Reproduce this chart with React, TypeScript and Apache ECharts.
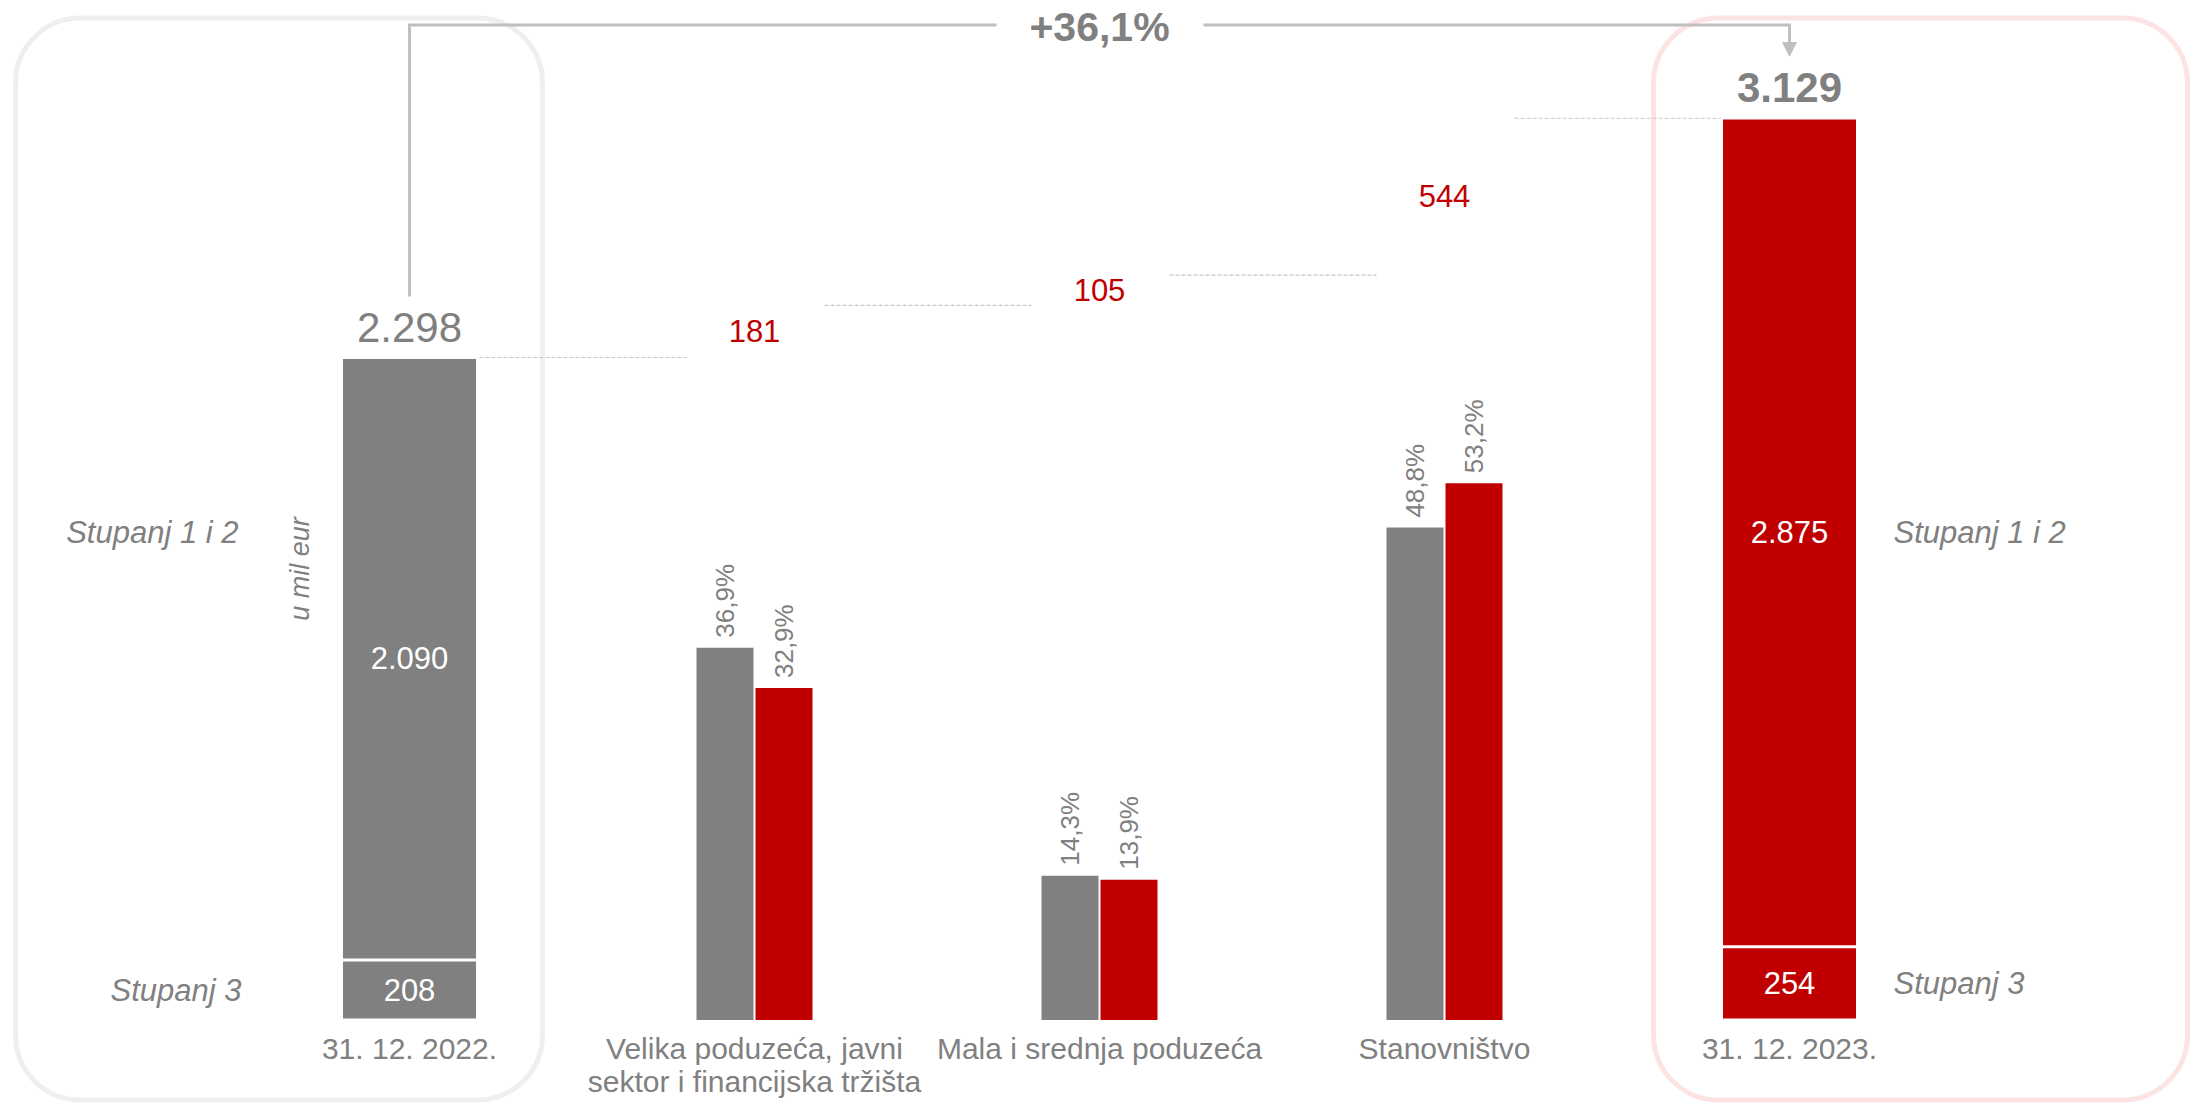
import React, { useEffect, useRef } from "react";
import * as echarts from "echarts";

// ---- data ----
const categories = [
  "31. 12. 2022.",
  "Velika poduzeća, javni\nsektor i financijska tržišta",
  "Mala i srednja poduzeća",
  "Stanovništvo",
  "31. 12. 2023.",
];
const stage3 = [208, null, null, null, 254];
const stage12 = [2090, null, null, null, 2875];
const totals = [2298, null, null, null, 3129];
const changes = [null, 181, 105, 544, null];
const share2022 = [null, 36.9, 14.3, 48.8, null];
const share2023 = [null, 32.9, 13.9, 53.2, null];
const stageNames = ["Stupanj 1 i 2", "Stupanj 3"];
const unitLabel = "u mil eur";
const growthLabel = "+36,1%";

// ---- styles ----
const GREY = "#808080";
const RED = "#C00000";
const FONT = "'Liberation Sans', Arial, Helvetica, sans-serif";
const LINE = "#bfbfbf";

const fmtNum = (v: number) => String(v).replace(/\B(?=(\d{3})+(?!\d))/g, ".");
const fmtPct = (v: number) => v.toFixed(1).replace(".", ",") + "%";
const dash = (arr: (number | null)[]) => arr.map((v) => (v == null ? "-" : v));

export default function App() {
  const ref = useRef<HTMLDivElement>(null);

  useEffect(() => {
    if (!ref.current) return;
    const chart = echarts.init(ref.current, null, { renderer: "svg" });

    // waterfall bases from the read values
    const base: (number | string)[] = categories.map(() => "-");
    const levels: [number, number][] = [];
    let running = totals[0] as number;
    levels.push([0, running]);
    for (let i = 1; i <= 3; i++) {
      base[i] = running;
      running += changes[i] as number;
      levels.push([i, running]);
    }

    const endColor = (i: number) => (i === 0 ? GREY : RED);
    const endItems = (arr: (number | null)[]) =>
      arr.map((v, i) => (v == null ? "-" : { value: v, itemStyle: { color: endColor(i) } }));

    const insideLabel = {
      show: true,
      position: "inside",
      color: "#ffffff",
      fontSize: 31,
      fontFamily: FONT,
      formatter: (p: any) => fmtNum(p.value),
    };

    const pctLabel = {
      show: true,
      position: "top",
      rotate: 90,
      align: "left",
      verticalAlign: "middle",
      distance: 10,
      color: GREY,
      fontSize: 26,
      fontFamily: FONT,
      formatter: (p: any) => fmtPct(p.value),
    };

    chart.setOption({
      animation: false,
      backgroundColor: "#ffffff",
      grid: { left: 237, right: 234, top: 11, bottom: 86, containLabel: false },
      xAxis: [
        {
          type: "category",
          data: categories,
          axisLine: { show: false },
          axisTick: { show: false },
          axisLabel: {
            interval: 0,
            color: GREY,
            fontSize: 30,
            lineHeight: 33,
            margin: 12,
            fontFamily: FONT,
          },
        },
        { type: "category", data: categories, show: false },
      ],
      yAxis: [
        { type: "value", min: 0, max: 3500, show: false },
        { type: "value", min: 0, max: 100, show: false },
      ],
      series: [
        {
          name: stageNames[1],
          type: "bar",
          stack: "amt",
          xAxisIndex: 0,
          yAxisIndex: 0,
          barWidth: 136,
          data: endItems(stage3),
          itemStyle: { borderColor: "#ffffff", borderWidth: 1.5 },
          label: insideLabel,
        },
        {
          name: stageNames[0],
          type: "bar",
          stack: "amt",
          xAxisIndex: 0,
          yAxisIndex: 0,
          barWidth: 136,
          data: endItems(stage12),
          itemStyle: { borderColor: "#ffffff", borderWidth: 1.5 },
          label: insideLabel,
        },
        {
          name: "total",
          type: "bar",
          stack: "amt",
          xAxisIndex: 0,
          yAxisIndex: 0,
          barWidth: 136,
          silent: true,
          itemStyle: { color: "rgba(0,0,0,0)" },
          data: totals.map((v, i) =>
            v == null
              ? "-"
              : { value: 0, label: { fontWeight: i === 0 ? "normal" : "bold" } }
          ),
          label: {
            show: true,
            position: "top",
            distance: 9,
            color: GREY,
            fontSize: 42,
            lineHeight: 42,
            fontFamily: FONT,
            formatter: (p: any) => fmtNum(totals[p.dataIndex] as number),
          },
        },
        {
          name: "base",
          type: "bar",
          stack: "amt",
          xAxisIndex: 0,
          yAxisIndex: 0,
          barWidth: 136,
          silent: true,
          itemStyle: { color: "rgba(0,0,0,0)" },
          data: base,
        },
        {
          name: "change",
          type: "bar",
          stack: "amt",
          xAxisIndex: 0,
          yAxisIndex: 0,
          barWidth: 136,
          silent: true,
          itemStyle: { color: "rgba(0,0,0,0)" },
          data: dash(changes),
          label: {
            show: true,
            position: "inside",
            color: RED,
            fontSize: 31,
            fontFamily: FONT,
            formatter: (p: any) => fmtNum(p.value),
          },
        },
        {
          name: "2022",
          type: "bar",
          xAxisIndex: 1,
          yAxisIndex: 1,
          barWidth: 57,
          barGap: "3.5%",
          itemStyle: { color: GREY },
          data: dash(share2022),
          label: pctLabel,
        },
        {
          name: "2023",
          type: "bar",
          xAxisIndex: 1,
          yAxisIndex: 1,
          barWidth: 57,
          barGap: "3.5%",
          itemStyle: { color: RED },
          data: dash(share2023),
          label: pctLabel,
        },
        {
          name: "connectors",
          type: "custom",
          xAxisIndex: 0,
          yAxisIndex: 0,
          silent: true,
          data: levels,
          renderItem: (params: any, api: any) => {
            const c = api.value(0);
            const v = api.value(1);
            const p = api.coord([c, v]);
            const q = api.coord([c + 1, v]);
            const bw = api.size([1, 0])[0];
            return {
              type: "line",
              shape: { x1: p[0] + bw * 0.203, y1: p[1], x2: q[0] - bw * 0.197, y2: q[1] },
              style: { stroke: "#c8c8c8", lineWidth: 1.2, lineDash: [4, 2] },
            };
          },
        },
      ],
    });

    // decorations positioned from the axes
    const px = (c: number, v: number) =>
      chart.convertToPixel({ xAxisIndex: 0, yAxisIndex: 0 }, [c, v]) as number[];
    const [x0, yT0] = px(0, totals[0] as number);
    const [x4, yT4] = px(4, totals[4] as number);
    const mid = (x0 + x4) / 2;
    const lineY = 25;
    const gapAbove = 61;
    const yS12 = px(4, (stage3[4] as number) + (stage12[4] as number) / 2)[1];
    const yS3L = px(0, (stage3[0] as number) / 2)[1];
    const yS3R = px(4, (stage3[4] as number) / 2)[1];
    const tipY = yT4 - gapAbove;

    const stageStyle = {
      fill: GREY,
      fontSize: 31,
      fontStyle: "italic",
      fontFamily: FONT,
      verticalAlign: "middle",
    };

    chart.setOption({
      graphic: [
        {
          type: "rect",
          silent: true,
          z: -10,
          shape: { x: x0 - 394, y: 18, width: 527, height: 1082, r: 65 },
          style: { fill: "none", stroke: "#efefef", lineWidth: 5 },
        },
        {
          type: "rect",
          silent: true,
          z: -10,
          shape: { x: x4 - 136, y: 18, width: 534, height: 1082, r: 65 },
          style: { fill: "none", stroke: "#fde4e4", lineWidth: 5 },
        },
        {
          type: "polyline",
          silent: true,
          shape: { points: [[x0, yT0 - gapAbove], [x0, lineY], [mid - 103, lineY]] },
          style: { stroke: LINE, lineWidth: 3, fill: "none" },
        },
        {
          type: "polyline",
          silent: true,
          shape: { points: [[mid + 104, lineY], [x4, lineY], [x4, tipY - 14]] },
          style: { stroke: LINE, lineWidth: 3, fill: "none" },
        },
        {
          type: "polygon",
          silent: true,
          shape: { points: [[x4 - 7.5, tipY - 15], [x4 + 7.5, tipY - 15], [x4, tipY]] },
          style: { fill: LINE },
        },
        {
          type: "text",
          silent: true,
          x: mid,
          y: lineY + 2,
          style: {
            text: growthLabel,
            fill: GREY,
            fontSize: 41,
            fontWeight: "bold",
            fontFamily: FONT,
            align: "center",
            verticalAlign: "middle",
          },
        },
        {
          type: "text",
          silent: true,
          x: x0 - 171,
          y: yS12,
          style: { ...stageStyle, text: stageNames[0], align: "right" },
        },
        {
          type: "text",
          silent: true,
          x: x0 - 168,
          y: yS3L,
          style: { ...stageStyle, text: stageNames[1], align: "right" },
        },
        {
          type: "text",
          silent: true,
          x: x4 + 104,
          y: yS12,
          style: { ...stageStyle, text: stageNames[0], align: "left" },
        },
        {
          type: "text",
          silent: true,
          x: x4 + 104,
          y: yS3R,
          style: { ...stageStyle, text: stageNames[1], align: "left" },
        },
        {
          type: "text",
          silent: true,
          x: x0 - 110,
          y: 569,
          rotation: Math.PI / 2,
          style: {
            text: unitLabel,
            fill: GREY,
            fontSize: 27,
            fontStyle: "italic",
            fontFamily: FONT,
            align: "center",
            verticalAlign: "middle",
          },
        },
      ],
    });

    return () => chart.dispose();
  }, []);

  return (
    <div
      ref={ref}
      style={{ position: "absolute", left: 0, top: 0, width: 2196, height: 1106, background: "#fff" }}
    />
  );
}
